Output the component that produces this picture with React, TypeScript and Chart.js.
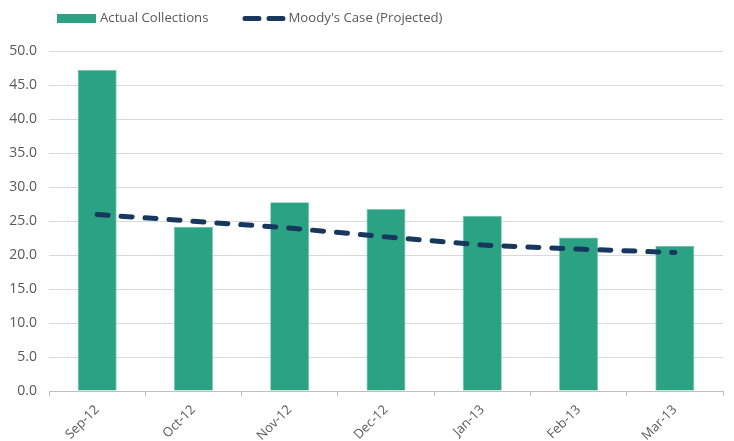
import React, { useEffect, useRef } from "react";
import { Chart, registerables } from "chart.js";

Chart.register(...registerables);

const categories = ["Sep-12", "Oct-12", "Nov-12", "Dec-12", "Jan-13", "Feb-13", "Mar-13"];
const actualCollections = [47.3, 24.2, 27.8, 26.8, 25.8, 22.6, 21.4];
const moodysCase = [26.0, 25.0, 24.0, 22.7, 21.5, 20.9, 20.4];
const seriesNames = ["Actual Collections", "Moody's Case (Projected)"];

const BAR_COLOR = "#2aa283";
const LINE_COLOR = "#17375e";
const TEXT_COLOR = "#595959";
const FONT = "'Open Sans', sans-serif";

const legendPlugin = {
  id: "customLegend",
  afterDraw(chart: any) {
    const ctx = chart.ctx;
    ctx.save();
    ctx.font = `13.2px ${FONT}`;
    ctx.fillStyle = TEXT_COLOR;
    ctx.textBaseline = "middle";
    const cy = 18.5;
    let x = 57;
    ctx.fillStyle = BAR_COLOR;
    ctx.fillRect(x, cy - 4.5, 39, 9);
    x += 39 + 4;
    ctx.fillStyle = TEXT_COLOR;
    ctx.fillText(seriesNames[0], x, cy);
    x += ctx.measureText(seriesNames[0]).width + 34;
    ctx.strokeStyle = LINE_COLOR;
    ctx.lineWidth = 5;
    ctx.lineCap = "round";
    ctx.setLineDash([14, 10]);
    ctx.beginPath();
    ctx.moveTo(x + 2.5, cy);
    ctx.lineTo(x + 42, cy);
    ctx.stroke();
    ctx.setLineDash([]);
    x += 42 + 4;
    ctx.fillText(seriesNames[1], x, cy);
    ctx.restore();
  },
};

export default function App() {
  const ref = useRef<HTMLCanvasElement | null>(null);
  useEffect(() => {
    if (!ref.current) return;
    const chart = new Chart(ref.current, {
      type: "bar",
      data: {
        labels: categories,
        datasets: [
          {
            type: "line",
            label: seriesNames[1],
            data: moodysCase,
            borderColor: LINE_COLOR,
            backgroundColor: LINE_COLOR,
            borderWidth: 5,
            borderDash: [11, 13],
            borderCapStyle: "round",
            pointRadius: 0,
            fill: false,
            tension: 0,
            order: 0,
          } as any,
          {
            type: "bar",
            label: seriesNames[0],
            data: actualCollections,
            backgroundColor: BAR_COLOR,
            borderColor: "#6cc4aa",
            borderWidth: 0.8,
            categoryPercentage: 1,
            barPercentage: 0.405,
            order: 1,
          } as any,
        ],
      },
      options: {
        responsive: false,
        animation: false,
        events: [],
        layout: { padding: { top: 51.5, right: 11, left: 0, bottom: 0 } },
        plugins: { legend: { display: false }, tooltip: { enabled: false } },
        scales: {
          x: {
            offset: true,
            grid: {
              offset: true,
              drawOnChartArea: false,
              drawTicks: true,
              tickLength: 5,
              color: "#bfbfbf",
            },
            border: { display: true, color: "#bfbfbf" },
            ticks: {
              minRotation: 45,
              maxRotation: 45,
              padding: 6,
              color: TEXT_COLOR,
              font: { family: FONT, size: 13 },
            },
            afterFit: (s: any) => {
              s.height = 50;
            },
          },
          y: {
            min: 0,
            max: 50,
            ticks: {
              stepSize: 5,
              padding: 12,
              color: TEXT_COLOR,
              font: { family: FONT, size: 14 },
              callback: (v: any) => Number(v).toFixed(1),
            },
            grid: { color: "#d9d9d9", drawTicks: false, lineWidth: 1 },
            border: { display: false },
            afterFit: (s: any) => {
              s.width = 49;
            },
          },
        },
      },
      plugins: [legendPlugin],
    });
    return () => chart.destroy();
  }, []);
  return (
    <div style={{ position: "fixed", left: 0, top: 0, width: 734, height: 441, background: "#fff" }}>
      <canvas ref={ref} width={734} height={441} style={{ width: 734, height: 441 }} />
    </div>
  );
}
